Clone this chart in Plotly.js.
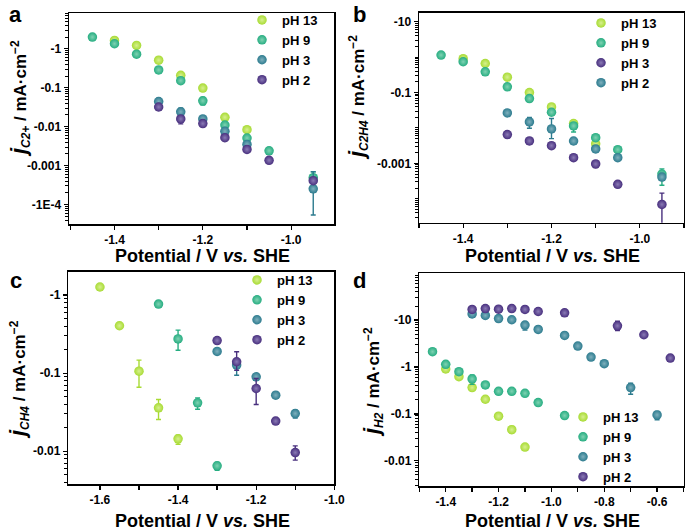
<!DOCTYPE html>
<html>
<head>
<meta charset="utf-8">
<script src="https://cdn.plot.ly/plotly-3.0.1.min.js"></script>
<style>html,body{margin:0;padding:0;background:#fff}#chart{width:685px;height:530px}</style>
</head>
<body>
<div id="chart"></div>
<script>
// ---------- DATA (magnitudes of current density, mA cm^-2; plotted on log axes with "-" labels) ----------
// Panel a: j C2+
const potA13 = [-1.4,-1.35,-1.3,-1.25,-1.2,-1.15,-1.1];
const jA13   = [1.64,1.22,0.51,0.208,0.098,0.0174,0.00836];
const eA13p  = [0,0,0,0,0,0,0];
const eA13m  = [0,0,0,0,0,0,0];
const potA9  = [-1.45,-1.4,-1.35,-1.3,-1.25,-1.2,-1.15,-1.1,-1.05,-0.95];
const jA9    = [2.0,1.35,0.73,0.286,0.152,0.046,0.011,0.0051,0.0024,0.00049];
const eA9p   = [0,0,0,0,0,0.01,0.002,0.0008,0,0.0002];
const eA9m   = [0,0,0,0,0,0.01,0.002,0.0008,0,0.0001];
const potA3  = [-1.3,-1.25,-1.2,-1.15,-1.1,-0.95];
const jA3    = [0.0443,0.024,0.0158,0.0076,0.0035,0.000254];
const eA3p   = [0.009,0.006,0.002,0.0015,0.0007,0.00044];
const eA3m   = [0.006,0.004,0.002,0.0015,0.0007,0.0002];
const potA2  = [-1.3,-1.25,-1.2,-1.15,-1.1,-1.05,-0.95];
const jA2    = [0.032,0.0158,0.012,0.0052,0.0026,0.00137,0.00041];
const eA2p   = [0.003,0.002,0.001,0.0008,0,0,0.00005];
const eA2m   = [0.004,0.004,0.001,0.0008,0,0,0.00005];

// Panel b: j C2H4
const potB13 = [-1.4,-1.35,-1.3,-1.25,-1.2,-1.15,-1.1];
const jB13   = [0.90,0.66,0.272,0.1,0.0393,0.0133,0.00355];
const eB13p  = [0,0,0,0,0,0.002,0];
const eB13m  = [0,0,0,0,0,0.002,0];
const potB9  = [-1.45,-1.4,-1.35,-1.3,-1.25,-1.2,-1.15,-1.1,-1.05,-0.95];
const jB9    = [1.14,0.74,0.385,0.145,0.0676,0.0277,0.0114,0.0053,0.00244,0.0005];
const eB9p   = [0,0,0,0,0,0,0.002,0.0008,0,0.0002];
const eB9m   = [0,0,0,0,0,0,0.0037,0.0008,0,0.00026];
const potB3  = [-1.3,-1.25,-1.2,-1.15,-1.1,-1.05,-0.95];
const jB3    = [0.0065,0.0043,0.00316,0.00145,0.00096,0.000255,0.000069];
const eB3p   = [0,0,0.0005,0,0.0002,0,0.000075];
const eB3m   = [0,0,0.0005,0,0.0002,0,0.0000685];
const potB2  = [-1.3,-1.25,-1.2,-1.15,-1.1,-1.05,-0.95];
const jB2    = [0.0266,0.0148,0.0094,0.00428,0.00255,0.00145,0.00041];
const eB2p   = [0,0.005,0.009,0,0,0,0];
const eB2m   = [0,0.005,0.0044,0,0,0,0];

// Panel c: j CH4
const potC13 = [-1.6,-1.55,-1.5,-1.45,-1.4];
const jC13   = [1.27,0.405,0.106,0.036,0.0144];
const eC13p  = [0,0.03,0.041,0.01,0.0016];
const eC13m  = [0,0.03,0.04,0.0105,0.0021];
const potC9  = [-1.45,-1.4,-1.35,-1.3];
const jC9    = [0.767,0.275,0.0417,0.0065];
const eC9p   = [0,0.081,0.0066,0.0007];
const eC9m   = [0,0.078,0.0072,0.0008];
const potC3  = [-1.3,-1.25,-1.2,-1.15,-1.1];
const jC3    = [0.19,0.127,0.0898,0.0522,0.0304];
const eC3p   = [0.015,0.02,0.008,0,0.0032];
const eC3m   = [0.015,0.033,0.008,0,0.0037];
const potC2  = [-1.3,-1.25,-1.2,-1.15,-1.1];
const jC2    = [0.262,0.14,0.0636,0.0243,0.0096];
const eC2p   = [0,0.048,0.022,0,0.0021];
const eC2m   = [0,0.031,0.024,0,0.0019];

// Panel d: j H2
const potD13 = [-1.4,-1.35,-1.3,-1.25,-1.2,-1.15,-1.1];
const jD13   = [0.906,0.622,0.363,0.205,0.089,0.046,0.0195];
const eD13p  = [0,0,0,0,0,0.008,0];
const eD13m  = [0,0,0,0,0,0.007,0];
const potD9  = [-1.45,-1.4,-1.35,-1.3,-1.25,-1.2,-1.15,-1.1,-1.05,-0.95];
const jD9    = [2.12,1.14,0.796,0.556,0.414,0.303,0.303,0.275,0.174,0.092];
const eD9p   = [0,0.1,0,0.12,0,0,0,0,0,0];
const eD9m   = [0,0.1,0,0.13,0,0,0,0,0,0];
const potD3  = [-1.3,-1.25,-1.2,-1.15,-1.1,-1.05,-0.95,-0.9,-0.85,-0.8,-0.7,-0.6];
const jD3    = [13.6,12.6,10.8,10.2,7.84,6.33,4.72,2.8,1.63,1.18,0.363,0.095];
const eD3p   = [0,1.0,0,0,1.1,0,0,0,0,0,0.086,0.017];
const eD3m   = [0,0,0,0,1.7,0,0,0,0,0,0.1,0.02];
const potD2  = [-1.3,-1.25,-1.2,-1.15,-1.1,-1.05,-0.95,-0.75,-0.65,-0.55];
const jD2    = [16.9,17.7,17.1,17.7,16.9,15.3,14.3,7.57,4.88,1.55];
const eD2p   = [0,0,0,0,0,0,0,1.9,0,0];
const eD2m   = [0,0,0,0,0,0,0,1.6,0,0];

// Tick labels
const xTickVals = [-1.6,-1.4,-1.2,-1.0,-0.8,-0.6];
const xTickText = ["-1.6","-1.4","-1.2","-1.0","-0.8","-0.6"];
const yValsA = [1e-4,1e-3,1e-2,1e-1,1];
const yTextA = ["-1E-4","-0.001","-0.01","-0.1","-1"];
const yValsB = [1e-3,1e-1,10];
const yTextB = ["-0.001","-0.1","-10"];
const yValsC = [1e-2,1e-1,1];
const yTextC = ["-0.01","-0.1","-1"];
const yValsD = [1e-2,1e-1,1,10];
const yTextD = ["-0.01","-0.1","-1","-10"];

// ---------- STYLE ----------
const FONT = "Liberation Sans, Arial, Helvetica, sans-serif";
const C13 = '#a8db34', C9 = '#26ad81', C3 = '#2c7b8e', C2 = '#482f7e';
const L13 = '#d6f08e', L9 = '#7fd2b2', L3 = '#7fb0bd', L2 = '#8a7ab5';

function tr(x, y, ep, em, name, col, light, xa, ya, leg) {
  return {
    type: 'scatter', mode: 'markers', x: x, y: y, name: name,
    xaxis: xa, yaxis: ya, legend: leg,
    marker: {size: 9.5, color: col, line: {width: 0},
             gradient: {type: 'radial', color: light}},
    error_y: {type: 'data', symmetric: false, array: ep, arrayminus: em,
              color: col, thickness: 1.4, width: 2.5},
    hoverinfo: 'x+y'
  };
}

const data = [
  tr(potA13, jA13, eA13p, eA13m, 'pH 13', C13, L13, 'x', 'y', 'legend'),
  tr(potA9,  jA9,  eA9p,  eA9m,  'pH 9',  C9,  L9,  'x', 'y', 'legend'),
  tr(potA3,  jA3,  eA3p,  eA3m,  'pH 3',  C3,  L3,  'x', 'y', 'legend'),
  tr(potA2,  jA2,  eA2p,  eA2m,  'pH 2',  C2,  L2,  'x', 'y', 'legend'),
  tr(potB13, jB13, eB13p, eB13m, 'pH 13', C13, L13, 'x2', 'y2', 'legend2'),
  tr(potB9,  jB9,  eB9p,  eB9m,  'pH 9',  C9,  L9,  'x2', 'y2', 'legend2'),
  tr(potB3,  jB3,  eB3p,  eB3m,  'pH 3',  C2,  L2,  'x2', 'y2', 'legend2'),
  tr(potB2,  jB2,  eB2p,  eB2m,  'pH 2',  C3,  L3,  'x2', 'y2', 'legend2'),
  tr(potC13, jC13, eC13p, eC13m, 'pH 13', C13, L13, 'x3', 'y3', 'legend3'),
  tr(potC9,  jC9,  eC9p,  eC9m,  'pH 9',  C9,  L9,  'x3', 'y3', 'legend3'),
  tr(potC3,  jC3,  eC3p,  eC3m,  'pH 3',  C3,  L3,  'x3', 'y3', 'legend3'),
  tr(potC2,  jC2,  eC2p,  eC2m,  'pH 2',  C2,  L2,  'x3', 'y3', 'legend3'),
  tr(potD13, jD13, eD13p, eD13m, 'pH 13', C13, L13, 'x4', 'y4', 'legend4'),
  tr(potD9,  jD9,  eD9p,  eD9m,  'pH 9',  C9,  L9,  'x4', 'y4', 'legend4'),
  tr(potD3,  jD3,  eD3p,  eD3m,  'pH 3',  C3,  L3,  'x4', 'y4', 'legend4'),
  tr(potD2,  jD2,  eD2p,  eD2m,  'pH 2',  C2,  L2,  'x4', 'y4', 'legend4')
];

const W = 685, H = 530;
const px = v => v / W, py = v => 1 - v / H;

const minorLog = [];
for (let d = -6; d <= 3; d++) for (let k = 2; k <= 9; k++) minorLog.push(k * Math.pow(10, d));
const minorLogB = minorLog.concat([1e-4, 1e-2, 1]);

const tickFont = {family: FONT, size: 12, color: '#000', weight: 'bold'};
function xax(dom, range, anchor) {
  return {domain: dom, range: range, anchor: anchor,
    showline: true, linewidth: 1.5, linecolor: '#000', mirror: true,
    ticks: 'outside', ticklen: 4, tickwidth: 1.3, tickcolor: '#000',
    tickmode: 'array', tickvals: xTickVals, ticktext: xTickText,
    minor: {tickmode: 'linear', tick0: -1.0, dtick: 0.1, ticks: 'outside', ticklen: 4, tickwidth: 1.3, tickcolor: '#000'},
    tickfont: tickFont, showgrid: false, zeroline: false, fixedrange: true};
}
function yax(dom, range, anchor, vals, text, minorVals) {
  return {domain: dom, range: range, anchor: anchor, type: 'log',
    showline: true, linewidth: 1.5, linecolor: '#000', mirror: true,
    ticks: 'outside', ticklen: 4, tickwidth: 1.3, tickcolor: '#000',
    tickmode: 'array', tickvals: vals, ticktext: text,
    minor: {tickmode: 'array', tickvals: minorVals || minorLog, ticks: 'outside', ticklen: 2.5, tickwidth: 1, tickcolor: '#000'},
    tickfont: tickFont, showgrid: false, zeroline: false, fixedrange: true};
}
function leg(x, y, yanchor) {
  return {x: x, y: y, xanchor: 'left', yanchor: yanchor || 'top', bgcolor: 'rgba(0,0,0,0)',
    borderwidth: 0, font: {family: FONT, size: 13, color: '#000', weight: 'bold'},
    itemwidth: 30, tracegroupgap: 0};
}

const xTitle = 'Potential / V <i>vs.</i> SHE';
function yTitle(sub) {
  return '<span style="font-size:22px"><i>j</i></span><sub><i>' + sub + '</i></sub> / mA·cm<sup>−2</sup>';
}
function ann(text, x, y, size, angle) {
  return {text: text, x: px(x), y: py(y), xref: 'paper', yref: 'paper', showarrow: false,
    xanchor: 'center', yanchor: 'middle', textangle: angle || 0,
    font: {family: FONT, size: size, color: '#000', weight: 'bold'}};
}

const layout = {
  width: W, height: H, margin: {l: 0, r: 0, t: 0, b: 0},
  paper_bgcolor: '#fff', plot_bgcolor: '#fff', showlegend: true,
  font: {family: FONT, color: '#000'},
  xaxis:  xax([px(69), px(334)], [-1.503, -0.903], 'y'),
  yaxis:  yax([py(224), py(13)], [-4.5, 0.92], 'x', yValsA, yTextA),
  xaxis2: xax([px(419), px(684)], [-1.5, -0.9], 'y2'),
  yaxis2: yax([py(222.7), py(12.7)], [-4.676, 1.254], 'x2', yValsB, yTextB, minorLogB),
  xaxis3: xax([px(68.3), px(334.3)], [-1.681, -1.0], 'y3'),
  yaxis3: yax([py(484), py(271.7)], [-2.42, 0.3], 'x3', yValsC, yTextC),
  xaxis4: xax([px(419.3), px(683.5)], [-1.5, -0.5], 'y4'),
  yaxis4: yax([py(486), py(273.3)], [-2.54, 2.0], 'x4', yValsD, yTextD),
  legend:  leg(px(242), py(5)),
  legend2: leg(px(581), py(8)),
  legend3: leg(px(237), py(265)),
  legend4: leg(px(563), py(492), 'bottom'),
  annotations: [
    ann('a', 16, 15, 22), ann('b', 359, 15, 22), ann('c', 16, 280, 22), ann('d', 359, 280, 22),
    ann(xTitle, 202, 256, 18), ann(xTitle, 552, 256, 18),
    ann(xTitle, 202, 521, 18), ann(xTitle, 552, 521, 18),
    ann(yTitle('C2+'), 20, 99, 17, -90), ann(yTitle('C2H4'), 358, 98, 17, -90),
    ann(yTitle('CH4'), 18, 380, 17, -90), ann(yTitle('H2'), 372, 382, 17, -90)
  ]
};

Plotly.newPlot('chart', data, layout, {displayModeBar: false, staticPlot: true});
</script>
</body>
</html>
